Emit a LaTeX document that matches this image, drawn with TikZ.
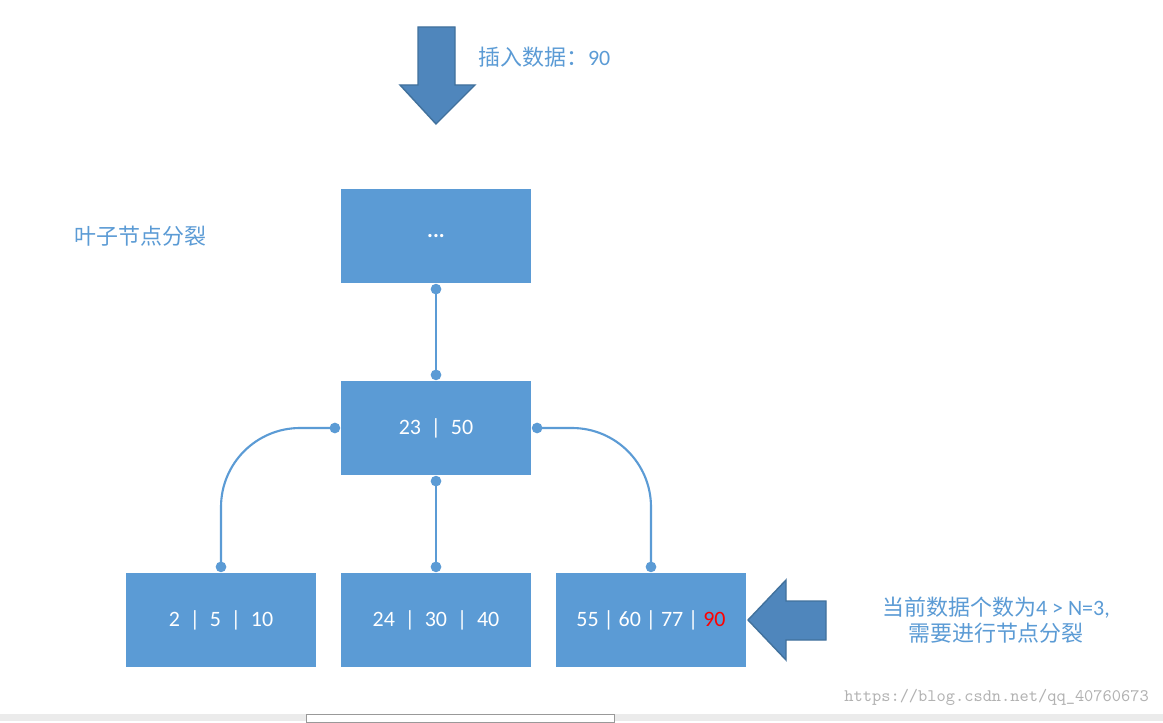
\documentclass[tikz,border=0pt]{standalone}
\usepackage{fontspec}
\setmainfont{Carlito}
\newfontfamily\cjk{Noto Sans CJK SC}
\usetikzlibrary{positioning,arrows.meta}
\definecolor{boxblue}{HTML}{5B9BD5}
\definecolor{arrowblue}{HTML}{4F86BC}
\definecolor{arrowedge}{HTML}{41719C}
\definecolor{textblue}{HTML}{5B9BD5}

\begin{document}
\begin{tikzpicture}[x=0.02cm, y=-0.02cm, every node/.style={font=\fontsize{12.5}{15}\selectfont}]
    \tikzstyle{tree} = [rectangle, fill=boxblue, text=white, minimum width=3.82cm, minimum height=1.9cm, inner sep=0pt]
    \tikzstyle{link} = [draw=boxblue, line width=1.2pt, {Circle[length=6pt]}-{Circle[length=6pt]}]
    \tikzstyle{blockarrow} = [fill=arrowblue, draw=arrowedge, line width=0.8pt, line join=miter]
    \tikzstyle{note} = [text=textblue, font=\cjk\fontsize{12.5}{15}\selectfont]
    \fill[white] (0,0) rectangle (1163,721);
    \fill[black!8] (0,714) rectangle (1163,721);
    \draw[black!40, fill=white] (306,714) rectangle (614,722);

    % nodes
    \node (top) [tree] at (436,236) {\textbf{...}};
    \node (mid) [tree] at (436,428) {23 ~|~ 50};
    \node (left) [tree] at (221,620) {2 ~|~ 5 ~|~ 10};
    \node (center) [tree] at (436,620) {24 ~|~ 30 ~|~ 40};
    \node (right) [tree] at (651,620) {55 | 60 | 77 | \textcolor{red}{90}};

    \node (title) [note, anchor=west] at (68,236) {叶子节点分裂};
    \node (insert) [note, anchor=west] at (472,57) {插入数据：{\fontspec{Carlito}90}};
    \node (reason) [note, align=center] at (996,620) {当前数据个数为{\fontspec{Carlito}4 > N=3,}\\需要进行节点分裂};
    \node (mark) [anchor=south east, text=black!30, font=\ttfamily\fontsize{10}{12}\selectfont] at (1155,712) {https://blog.csdn.net/qq\_40760673};

    % arrows
    \draw[blockarrow] (418,27) -- (455,27) -- (455,85) -- (475,85) -- (436,124) -- (400,85) -- (418,85) -- cycle;
    \draw[blockarrow] (826,601) -- (826,640) -- (786,640) -- (786,660) -- (748,620) -- (786,580) -- (786,601) -- cycle;

    % links
    \draw [link] (top.south) -- (mid.north);
    \draw [link] (mid.south) -- (center.north);
    \draw [link, rounded corners=45] (mid.west) -| (left.north);
    \draw [link, rounded corners=45] (mid.east) -| (right.north);
\end{tikzpicture}
\end{document}
